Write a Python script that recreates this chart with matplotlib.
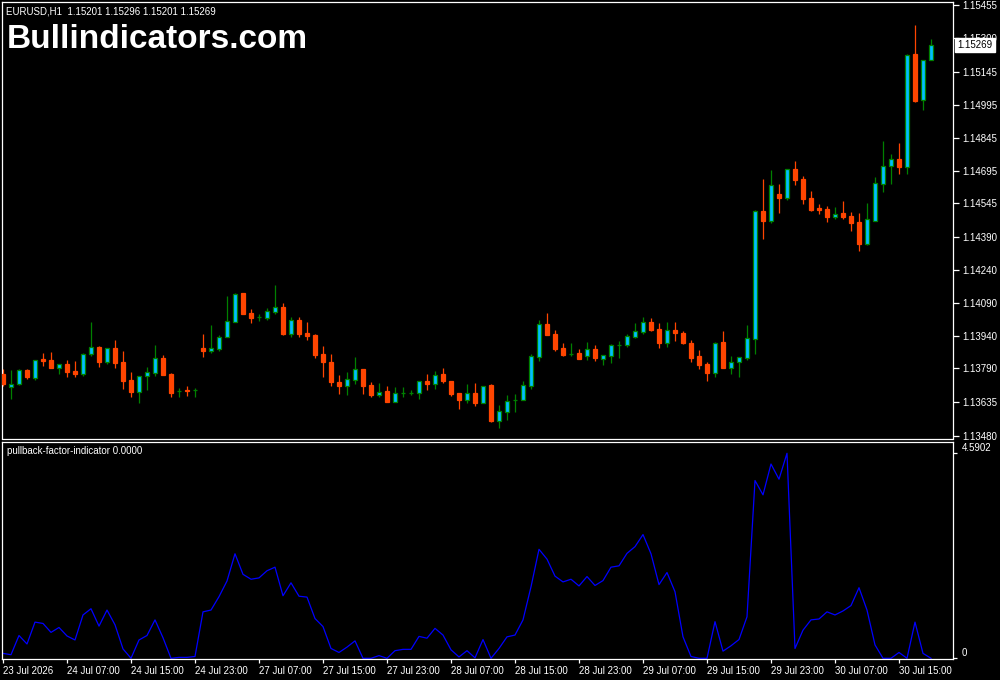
import numpy as np
import matplotlib
matplotlib.use("Agg")
import matplotlib.pyplot as plt
import matplotlib.transforms as mtransforms

# ── data: EURUSD H1 candles ─────────────────────────────────────────────────
opens = [1.13763, 1.13705, 1.13719, 1.13782, 1.13747, 1.13832, 1.13828, 1.13792, 1.13809, 1.13777,
         1.13765, 1.13857, 1.13887, 1.13818, 1.13882, 1.13818, 1.13736, 1.13682, 1.13756, 1.13769,
         1.13837, 1.13763, 1.13685, 1.13690, 1.13693, 1.13882, 1.13870, 1.13879, 1.13934, 1.14003,
         1.14134, 1.14043, 1.14024, 1.14021, 1.14047, 1.14070, 1.13948, 1.14011, 1.13951, 1.13942,
         1.13855, 1.13818, 1.13727, 1.13708, 1.13739, 1.13786, 1.13713, 1.13670, 1.13685, 1.13637,
         1.13678, 1.13678, 1.13678, 1.13731, 1.13719, 1.13763, 1.13731, 1.13676, 1.13646, 1.13676,
         1.13632, 1.13713, 1.13547, 1.13591, 1.13644, 1.13647, 1.13710, 1.13843, 1.13992, 1.13947,
         1.13882, 1.13857, 1.13860, 1.13847, 1.13878, 1.13834, 1.13846, 1.13898, 1.13898, 1.13934,
         1.13957, 1.14002, 1.13970, 1.13904, 1.13965, 1.13951, 1.13905, 1.13846, 1.13809, 1.13769,
         1.13910, 1.13792, 1.13820, 1.13838, 1.13925, 1.14510, 1.14465, 1.14588, 1.14571, 1.14702,
         1.14656, 1.14569, 1.14523, 1.14519, 1.14484, 1.14501, 1.14487, 1.14459, 1.14360, 1.14465,
         1.14635, 1.14717, 1.14748, 1.14713, 1.15231, 1.15017, 1.15201]
highs = [1.13785, 1.13782, 1.13785, 1.13785, 1.13828, 1.13860, 1.13864, 1.13812, 1.13828, 1.13823,
         1.13860, 1.14002, 1.13892, 1.13881, 1.13919, 1.13869, 1.13773, 1.13754, 1.13795, 1.13896,
         1.13850, 1.13768, 1.13699, 1.13708, 1.13699, 1.13947, 1.13988, 1.13942, 1.14121, 1.14134,
         1.14134, 1.14061, 1.14038, 1.14066, 1.14171, 1.14089, 1.14024, 1.14024, 1.14002, 1.13947,
         1.13892, 1.13855, 1.13759, 1.13773, 1.13841, 1.13786, 1.13727, 1.13722, 1.13708, 1.13704,
         1.13704, 1.13690, 1.13731, 1.13763, 1.13777, 1.13791, 1.13731, 1.13676, 1.13718, 1.13722,
         1.13711, 1.13718, 1.13621, 1.13667, 1.13672, 1.13731, 1.13855, 1.14011, 1.14043, 1.13965,
         1.13905, 1.13905, 1.13878, 1.13910, 1.13896, 1.13849, 1.13901, 1.13915, 1.13947, 1.13997,
         1.14024, 1.14020, 1.13997, 1.14002, 1.14002, 1.13960, 1.13919, 1.13873, 1.13818, 1.13910,
         1.13960, 1.13846, 1.13841, 1.13988, 1.14514, 1.14656, 1.14698, 1.14633, 1.14702, 1.14739,
         1.14670, 1.14601, 1.14542, 1.14533, 1.14528, 1.14556, 1.14505, 1.14501, 1.14546, 1.14665,
         1.14830, 1.14771, 1.14821, 1.15230, 1.15362, 1.15201, 1.15296]
lows = [1.13710, 1.13649, 1.13715, 1.13740, 1.13736, 1.13800, 1.13791, 1.13763, 1.13750, 1.13750,
        1.13754, 1.13846, 1.13795, 1.13809, 1.13791, 1.13695, 1.13658, 1.13631, 1.13690, 1.13754,
        1.13759, 1.13658, 1.13658, 1.13663, 1.13658, 1.13841, 1.13860, 1.13869, 1.13934, 1.14003,
        1.14038, 1.13997, 1.14006, 1.14011, 1.14038, 1.13942, 1.13933, 1.13933, 1.13919, 1.13837,
        1.13750, 1.13708, 1.13672, 1.13667, 1.13718, 1.13672, 1.13658, 1.13658, 1.13635, 1.13637,
        1.13658, 1.13667, 1.13649, 1.13690, 1.13695, 1.13722, 1.13663, 1.13603, 1.13631, 1.13617,
        1.13632, 1.13543, 1.13516, 1.13553, 1.13589, 1.13644, 1.13695, 1.13823, 1.13942, 1.13869,
        1.13846, 1.13846, 1.13832, 1.13828, 1.13823, 1.13805, 1.13814, 1.13837, 1.13889, 1.13930,
        1.13948, 1.13960, 1.13882, 1.13889, 1.13914, 1.13900, 1.13818, 1.13786, 1.13731, 1.13749,
        1.13791, 1.13763, 1.13749, 1.13827, 1.13855, 1.14382, 1.14455, 1.14501, 1.14560, 1.14629,
        1.14542, 1.14510, 1.14496, 1.14459, 1.14473, 1.14473, 1.14418, 1.14327, 1.14356, 1.14465,
        1.14598, 1.14635, 1.14679, 1.14679, 1.15010, 1.14973, 1.15201]
closes = [1.13718, 1.13718, 1.13782, 1.13750, 1.13828, 1.13823, 1.13791, 1.13812, 1.13773, 1.13765,
          1.13855, 1.13887, 1.13818, 1.13881, 1.13814, 1.13731, 1.13682, 1.13754, 1.13773, 1.13837,
          1.13759, 1.13676, 1.13685, 1.13688, 1.13693, 1.13870, 1.13882, 1.13933, 1.14006, 1.14130,
          1.14038, 1.14020, 1.14024, 1.14052, 1.14070, 1.13947, 1.14011, 1.13947, 1.13939, 1.13850,
          1.13818, 1.13727, 1.13708, 1.13740, 1.13786, 1.13708, 1.13667, 1.13684, 1.13635, 1.13675,
          1.13678, 1.13678, 1.13731, 1.13718, 1.13759, 1.13731, 1.13672, 1.13646, 1.13675, 1.13631,
          1.13711, 1.13548, 1.13594, 1.13640, 1.13644, 1.13713, 1.13846, 1.13992, 1.13942, 1.13878,
          1.13850, 1.13857, 1.13832, 1.13878, 1.13837, 1.13849, 1.13896, 1.13898, 1.13937, 1.13960,
          1.14002, 1.13965, 1.13905, 1.13965, 1.13951, 1.13905, 1.13836, 1.13804, 1.13768, 1.13905,
          1.13791, 1.13818, 1.13841, 1.13928, 1.14510, 1.14464, 1.14629, 1.14569, 1.14702, 1.14652,
          1.14565, 1.14514, 1.14516, 1.14482, 1.14496, 1.14482, 1.14455, 1.14359, 1.14472, 1.14638,
          1.14716, 1.14748, 1.14711, 1.15225, 1.15014, 1.15201, 1.15269]

# pullback-factor-indicator values
pullback = [0.11, 0.08, 0.51, 0.32, 0.81, 0.78, 0.58, 0.69, 0.50, 0.41,
            0.97, 1.11, 0.72, 1.08, 0.75, 0.21, 0.00, 0.41, 0.51, 0.86,
            0.46, 0.00, 0.02, 0.02, 0.04, 1.04, 1.08, 1.38, 1.73, 2.34,
            1.88, 1.77, 1.80, 1.96, 2.04, 1.40, 1.69, 1.39, 1.37, 0.89,
            0.71, 0.22, 0.13, 0.25, 0.39, 0.00, 0.00, 0.06, 0.00, 0.17,
            0.20, 0.20, 0.49, 0.45, 0.67, 0.52, 0.19, 0.03, 0.17, 0.01,
            0.42, 0.00, 0.22, 0.48, 0.52, 0.86, 1.60, 2.44, 2.22, 1.84,
            1.71, 1.77, 1.62, 1.83, 1.63, 1.74, 2.04, 2.07, 2.35, 2.50,
            2.77, 2.34, 1.65, 1.92, 1.49, 0.48, 0.04, 0.00, 0.00, 0.82,
            0.16, 0.28, 0.42, 0.93, 3.98, 3.66, 4.35, 4.01, 4.5902, 0.22,
            0.63, 0.86, 0.88, 1.04, 0.97, 1.06, 1.18, 1.58, 1.08, 0.30,
            0.00, 0.00, 0.13, 0.00, 0.81, 0.11, 0.00]

price_ticks = [1.15455, 1.15300, 1.15145, 1.14995, 1.14845, 1.14695, 1.14545,
               1.14390, 1.14240, 1.14090, 1.13940, 1.13790, 1.13635, 1.13480]
time_labels = ["23 Jul 2026", "24 Jul 07:00", "24 Jul 15:00", "24 Jul 23:00",
               "27 Jul 07:00", "27 Jul 15:00", "27 Jul 23:00", "28 Jul 07:00",
               "28 Jul 15:00", "28 Jul 23:00", "29 Jul 07:00", "29 Jul 15:00",
               "29 Jul 23:00", "30 Jul 07:00", "30 Jul 15:00"]
last_price = 1.15269
header = "EURUSD,H1  1.15201 1.15296 1.15201 1.15269"

# ── style ─────────────────────────────────────────────────────────────────
UP_FILL = "#00BFFF"
UP_LINE = "#008000"
DOWN = "#FF4500"
LINE_BLUE = "#0000FF"
FONT = "Liberation Sans"

W, H = 1000, 680
fig = plt.figure(figsize=(10, 6.8), dpi=100, facecolor="black")

# pixel boxes of the two panes
ax = fig.add_axes([2 / W, 1 - 438.5 / H, 951 / W, 436.5 / H])
ax2 = fig.add_axes([2 / W, 1 - 659 / H, 951 / W, 217 / H])

for a in (ax, ax2):
    a.set_facecolor("black")
    for s in a.spines.values():
        s.set_color("white")
        s.set_linewidth(0.9)
    a.set_xlim(-0.125, 118.75)

# ── candles ──────────────────────────────────────────────────────────────
o = np.array(opens)
h = np.array(highs)
l = np.array(lows)
c = np.array(closes)
x = np.arange(len(o))
up = c >= o

ax.vlines(x, l, h, colors=np.where(up, UP_LINE, DOWN), linewidth=0.9, zorder=2)
ax.bar(x, np.abs(c - o), bottom=np.minimum(o, c), width=0.5,
       color=np.where(up, UP_FILL, DOWN), edgecolor=np.where(up, UP_LINE, DOWN),
       linewidth=0.9, zorder=3)

ax.set_ylim(1.13469, 1.15467)
ax.yaxis.tick_right()
ax.set_yticks(price_ticks)
ax.set_yticklabels([f"{p:.5f}" for p in price_ticks])
ax.set_xticks([])
ax.tick_params(axis="y", colors="white", length=4, width=0.9, pad=3,
               labelsize=7, labelcolor="white")
for lbl in ax.get_yticklabels():
    lbl.set_fontfamily(FONT)

# current price box
trans = mtransforms.blended_transform_factory(ax.transAxes, ax.transData)
ax.text(1.0045, last_price, f"{last_price:.5f}", transform=trans, ha="left", va="center",
        fontsize=7, family=FONT, color="black", zorder=10,
        bbox=dict(facecolor="white", edgecolor="white", pad=1.6))

# ── indicator pane ───────────────────────────────────────────────────────
ax2.plot(x, pullback, color=LINE_BLUE, linewidth=0.9)
ax2.set_ylim(-0.016, 4.843)
ax2.yaxis.tick_right()
ax2.set_yticks([max(pullback), 0])
ax2.set_yticklabels([f"{max(pullback):.4f}", "0"])
ax2.tick_params(axis="y", colors="white", length=3, width=0.9, pad=3,
                labelsize=7, labelcolor="white")
for lbl in ax2.get_yticklabels():
    lbl.set_fontfamily(FONT)
    lbl.set_verticalalignment("bottom")

ax2.set_xticks(np.arange(0, len(o), 8))
ax2.set_xticklabels(time_labels, ha="left")
ax2.tick_params(axis="x", colors="white", length=3, width=0.9, pad=2,
                labelsize=7, labelcolor="white")
for lbl in ax2.get_xticklabels():
    lbl.set_fontfamily(FONT)

# ── texts ────────────────────────────────────────────────────────────────
fig.text(6 / W, 1 - 11 / H, header, fontsize=7, family=FONT, color="white", va="center")
fig.text(7 / W, 1 - 48 / H, "Bullindicators.com", fontsize=24, fontweight="bold",
         family=FONT, color="white", va="baseline")
fig.text(7 / W, 1 - 450.5 / H, "pullback-factor-indicator 0.0000", fontsize=7,
         family=FONT, color="white", va="center")

fig.savefig("out.png", dpi=100, facecolor="black")
